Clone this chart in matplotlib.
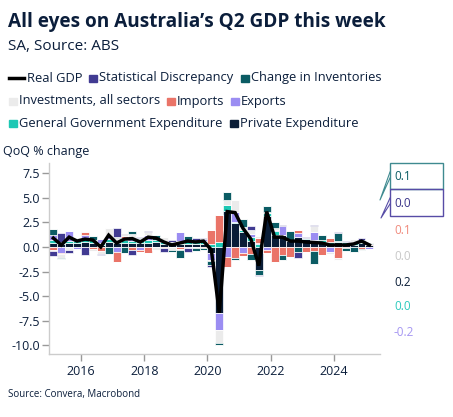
import matplotlib
matplotlib.use("Agg")
import matplotlib.pyplot as plt
import numpy as np
from matplotlib.patches import Rectangle
from matplotlib.lines import Line2D

# ---------------- data ----------------
years = [2015 + q // 4 for q in range(41)]
quarters = [q % 4 + 1 for q in range(41)]

real_gdp = [0.9, 0.2, 1.0, 0.6, 0.8, 0.7, 0.0, 1.2, 0.4, 0.8,
            0.85, 0.5, 1.0, 0.9, 0.5, 0.2, 0.4, 0.6, 0.5, 0.6,
            -0.3, -6.7, 3.6, 3.5, 1.9, 0.8, -1.9, 3.6, 1.0, 1.0,
            0.6, 0.6, 0.5, 0.45, 0.4, 0.2, 0.2, 0.2, 0.3, 0.6, 0.2]

private_exp = [0.37, 0.30, 0.40, 0.40, 0.50, 0.40, 0.25, 0.50, 0.40, 0.40,
               0.40, 0.40, 0.45, 0.50, 0.35, 0.30, 0.30, 0.30, 0.30, 0.30,
               -0.65, -6.70, 3.70, 2.40, 1.50, 0.60, -2.30, 3.20, 1.20, 1.20,
               0.60, 1.05, 0.80, 0.37, 0.50, 0.20, 0.55, 0.30, 0.20, 0.40, 0.20]
gov_exp = [0.34, 0.25, 0.25, 0.20, 0.30, 0.30, 0.20, 0.30, 0.20, 0.30,
           0.20, 0.25, 0.30, 0.20, 0.20, 0.20, 0.30, 0.30, 0.25, 0.30,
           0.35, 0.50, 0.55, 0.15, 0.20, 0.40, 0.30, 0.30, 0.40, 0.05,
           0.00, 0.00, 0.10, 0.33, 0.20, 0.30, 0.10, 0.20, 0.20, 0.30, 0.00]
exports = [0.50, -0.60, 0.95, -0.20, 0.40, 0.00, 0.35, 0.20, -0.50, 0.20,
           0.30, -0.30, 0.50, 0.00, 0.10, 0.00, 0.90, -0.10, 0.00, 0.20,
           -0.70, -1.80, -1.00, 1.05, -0.60, 0.30, 0.10, -0.30, 0.10, 0.85,
           0.00, 0.34, 0.00, 0.85, 0.00, -0.55, 0.00, 0.00, 0.00, 0.00, -0.20]
imports = [-0.30, -0.15, 0.05, 0.20, 0.35, -0.20, -0.40, 0.00, -1.00, 0.20,
           -0.30, -0.20, -0.60, 0.00, -0.10, 0.00, -0.20, 0.00, 0.00, -0.10,
           1.35, 2.80, -1.00, -1.15, -0.30, -0.70, 0.50, -0.30, -1.50, -0.80,
           -1.00, 0.34, -0.50, -0.40, -0.80, 0.40, -1.15, -0.10, 0.00, -0.20, 0.10]
investments = [-0.10, -0.35, -0.30, -0.10, 0.05, -0.20, -0.35, 0.90, 0.30, 0.30,
               0.40, 0.20, 0.30, -0.30, 0.35, -0.30, -0.10, 0.00, -0.10, 0.00,
               -0.10, -1.30, 0.50, 1.20, 0.30, 0.40, 0.20, 0.10, 0.20, 0.00,
               0.00, 0.00, 0.00, 0.55, 0.00, -0.15, -0.20, 0.00, 0.40, 0.00, 0.00]
inventories = [0.60, -0.15, 0.00, 0.10, 0.00, 0.40, 0.05, -0.70, 0.15, -0.60,
               0.35, 0.10, 0.00, 0.50, 0.00, -0.20, -0.80, 0.50, -0.30, -0.20,
               -0.40, -0.15, 0.80, -0.15, 0.80, -0.60, -0.55, 0.55, 0.60, -0.50,
               1.00, -0.50, 0.00, -1.35, 0.50, 0.00, 0.75, -0.30, -0.50, -0.10, 0.10]
stat_disc = [-0.48, 0.85, -0.35, 0.00, -0.80, 0.00, -0.10, 0.00, 0.85, 0.00,
             -0.50, 0.05, 0.05, 0.00, -0.40, 0.20, 0.00, -0.40, 0.40, 0.10,
             -0.15, -0.05, 0.00, 0.00, 0.00, 0.40, -0.15, 0.00, 0.00, 0.15,
             0.00, -0.60, 0.10, 0.10, 0.00, 0.00, 0.15, 0.10, 0.00, 0.20, 0.00]

last_labels = ["0.1", "0.0", "0.1", "0.0", "0.2", "0.0", "-0.2"]

# ---------------- style ----------------
navy = "#0b1e3b"
c_priv = "#0a1d37"
c_gov = "#1ec8b4"
c_exp = "#9b8df2"
c_imp = "#ea7468"
c_invst = "#ebebeb"
c_invent = "#0b5c64"
c_sd = "#413b92"

font = "Open Sans"
plt.rcParams["font.family"] = [font, "DejaVu Sans"]

W, H = 453, 417
fig = plt.figure(figsize=(W / 100, H / 100), dpi=100)

def fx(px):
    return px / W

def fy(py):
    return 1 - py / H

ax = fig.add_axes([fx(49.4), fy(354), fx(380) - fx(49.4), fy(163) - fy(354)])

xpos = np.array([y + (q - 1) * 0.25 + 0.125 for y, q in zip(years, quarters)])

stack = [(private_exp, c_priv), (gov_exp, c_gov), (exports, c_exp),
         (imports, c_imp), (investments, c_invst), (inventories, c_invent),
         (stat_disc, c_sd)]
pos_b = np.zeros(len(xpos))
neg_b = np.zeros(len(xpos))
for vals, col in stack:
    v = np.array(vals, dtype=float)
    p = np.where(v > 0, v, 0)
    n = np.where(v < 0, v, 0)
    ax.bar(xpos, p, bottom=pos_b, width=0.25, color=col,
           edgecolor="white", linewidth=0.5, zorder=2)
    ax.bar(xpos, n, bottom=neg_b, width=0.25, color=col,
           edgecolor="white", linewidth=0.5, zorder=2)
    pos_b += p
    neg_b += n

ax.plot(xpos, real_gdp, color="black", lw=2.5, zorder=3, solid_joinstyle="miter")

ax.set_xlim(2015.0, 2025.46)
ax.set_ylim(-10.9, 8.55)
ax.set_yticks([7.5, 5.0, 2.5, 0.0, -2.5, -5.0, -7.5, -10.0])
ax.set_yticklabels(["7.5", "5.0", "2.5", "0.0", "-2.5", "-5.0", "-7.5", "-10.0"])
ax.set_xticks([2016, 2018, 2020, 2022, 2024])
ax.set_xticklabels(["2016", "2018", "2020", "2022", "2024"])
for s in ["top", "right"]:
    ax.spines[s].set_visible(False)
for s in ["left", "bottom"]:
    ax.spines[s].set_color("#cccccc")
    ax.spines[s].set_linewidth(1.0)
ax.tick_params(axis="both", colors="#999999", labelcolor=navy, labelsize=9,
               length=5, width=1.0, direction="out")
ax.tick_params(axis="x", pad=3)
ax.tick_params(axis="y", pad=2)

# ---------------- texts ----------------
fig.text(fx(8), fy(22), "All eyes on Australia\u2019s Q2 GDP this week", fontsize=13.7,
         fontweight="bold", color=navy, va="center", ha="left")
fig.text(fx(8), fy(47), "SA, Source: ABS", fontsize=11, color=navy, va="center", ha="left")
fig.text(fx(3), fy(152), "QoQ % change", fontsize=9, color=navy, va="center", ha="left")
fig.text(fx(8), fy(395), "Source: Convera, Macrobond", fontsize=7, color=navy,
         va="center", ha="left")

# legend (manual)
leg_fs = 9.3
def sq(xp, yp, col):
    fig.patches.append(Rectangle((fx(xp), fy(yp + 4)), fx(7.5), fy(0) - fy(7.5),
                                 transform=fig.transFigure, color=col))

r1, r2, r3 = 78, 101, 123
fig.lines.append(Line2D([fx(9), fx(24)], [fy(r1), fy(r1)], color="black", lw=2.5,
                        transform=fig.transFigure))
fig.text(fx(27), fy(r1), "Real GDP", fontsize=leg_fs, color=navy, va="center")
sq(89, r1, c_sd)
fig.text(fx(99), fy(r1), "Statistical Discrepancy", fontsize=leg_fs, color=navy, va="center")
sq(241, r1, c_invent)
fig.text(fx(251), fy(r1), "Change in Inventories", fontsize=leg_fs, color=navy, va="center")
sq(9, r2, c_invst)
fig.text(fx(19), fy(r2), "Investments, all sectors", fontsize=leg_fs, color=navy, va="center")
sq(167, r2, c_imp)
fig.text(fx(177), fy(r2), "Imports", fontsize=leg_fs, color=navy, va="center")
sq(231, r2, c_exp)
fig.text(fx(241), fy(r2), "Exports", fontsize=leg_fs, color=navy, va="center")
sq(9, r3, c_gov)
fig.text(fx(19), fy(r3), "General Government Expenditure", fontsize=leg_fs, color=navy, va="center")
sq(230, r3, c_priv)
fig.text(fx(240), fy(r3), "Private Expenditure", fontsize=leg_fs, color=navy, va="center")

# last value labels
box_cols = ["#3f8a90", "#574ca6"]
box_y = [(163, 189), (189, 216)]
for (y0, y1), bc, tail in zip(box_y, box_cols, [(380, 200), (381, 218)]):
    fig.patches.append(Rectangle((fx(390), fy(y1)), fx(443) - fx(390), fy(y0) - fy(y1),
                                 transform=fig.transFigure, fill=False,
                                 edgecolor=bc, lw=1.0))
    fig.lines.append(Line2D([fx(390), fx(tail[0]), fx(390)],
                            [fy(y0 + 9), fy(tail[1]), fy(y0 + 15)],
                            color=bc, lw=0.8, transform=fig.transFigure))

label_cols = [c_invent, "#3a3489", "#f08a7c", "#c8c8c8", c_priv, "#2ccabd", "#a596f2"]
label_y = [177, 203, 230, 257, 282, 307, 333]
for t, c, yy in zip(last_labels, label_cols, label_y):
    fig.text(fx(394), fy(yy), t, fontsize=8.5, color=c, va="center", ha="left")

fig.savefig("out.png", dpi=100)
